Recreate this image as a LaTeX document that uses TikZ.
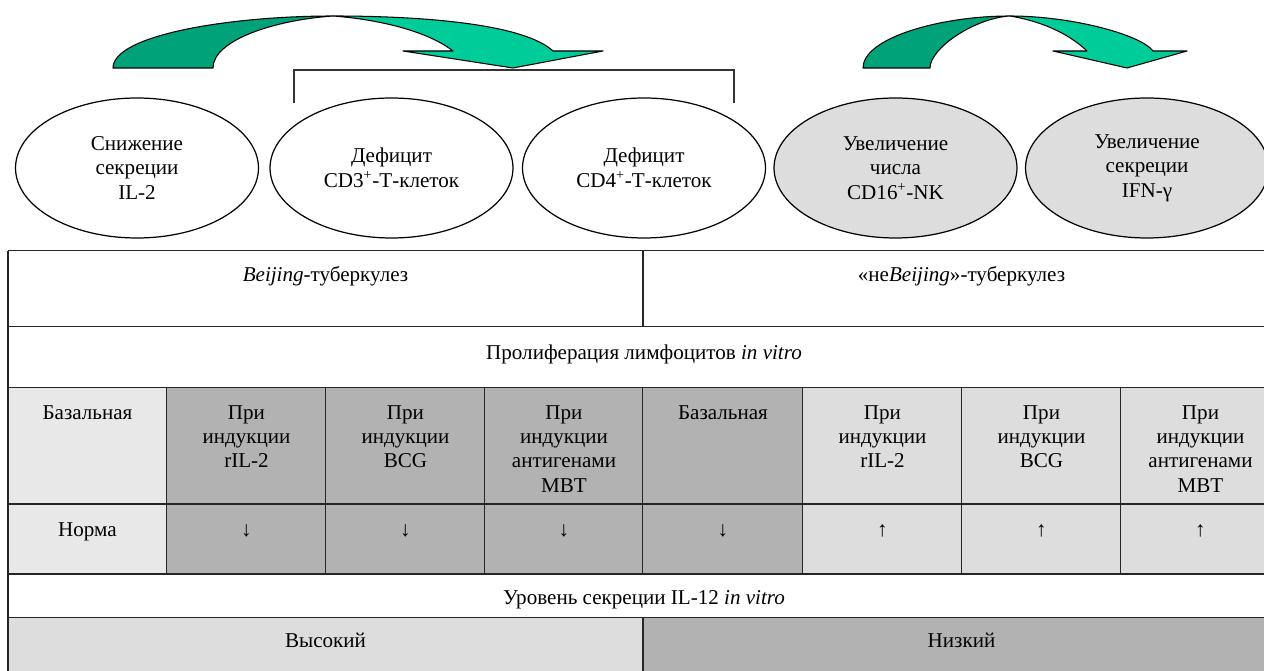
\documentclass[tikz,border=0pt]{standalone}
\usepackage{fontspec}
\setmainfont{Liberation Serif}
\usetikzlibrary{shapes.geometric, positioning, calc}
\definecolor{arrdark}{HTML}{00A27A}
\definecolor{arrlight}{HTML}{00CC99}
\definecolor{ovalgray}{HTML}{DDDDDD}
\definecolor{cellpale}{HTML}{E8E8E8}
\definecolor{celllight}{HTML}{DDDDDD}
\definecolor{celldark}{HTML}{B2B2B2}

\begin{document}
\begin{tikzpicture}[
    x=0.02cm, y=-0.02cm,
    font=\fontsize{12}{13.9}\selectfont,
    oval/.style={draw, ellipse, minimum width=4.86cm, minimum height=2.8cm, inner sep=0pt, align=center, line width=0.7pt},
    ribbon/.style={draw=black, line width=0.6pt, line join=round},
    grid/.style={draw=black!85, line width=0.9pt},
    txt/.style={inner sep=0pt, align=center},
  ]
  \useasboundingbox (0,0) rectangle (1264,671);

  % curved arrows
  \filldraw[ribbon, fill=arrlight] (333,16) .. controls (430,16) and (525,25) .. (553,51)
    -- (603,51) -- (513,68) -- (403,51) -- (453,51)
    .. controls (430,33) and (385,20) .. (333,16) -- cycle;
  \filldraw[ribbon, fill=arrdark] (113,68) .. controls (113,35) and (230,16) .. (333,16)
    .. controls (275,20) and (213,40) .. (213,68) -- cycle;

  \filldraw[ribbon, fill=arrlight] (1010,16) .. controls (1070,16) and (1140,34) .. (1153,51)
    -- (1187,51) -- (1127,68) -- (1053,51) -- (1087,51)
    .. controls (1070,35) and (1045,22) .. (1010,16) -- cycle;
  \filldraw[ribbon, fill=arrdark] (863,68) .. controls (863,38) and (940,16) .. (1010,16)
    .. controls (975,18) and (930,48) .. (930,68) -- cycle;

  % ovals
  \node[oval] (il2) at (137,168) {Снижение\\секреции\\IL-2};
  \node[oval] (cd3) at (391.5,168) {Дефицит\\CD3\textsuperscript{+}-Т-клеток};
  \node[oval] (cd4) at (644,168) {Дефицит\\CD4\textsuperscript{+}-Т-клеток};
  \node[oval, fill=ovalgray] (nk) at (895.5,168) {Увеличение\\числа\\CD16\textsuperscript{+}-NK};
  \node[oval, fill=ovalgray] (ifn) at (1147,168) {Увеличение\\секреции\\IFN-γ};

  % bracket over the T-cell ovals
  \coordinate (brl) at (294,103);
  \coordinate (brr) at (734,103);
  \coordinate (brtop) at (0,70);
  \draw[black!80, line width=0.7pt] (brl) -- (brl |- brtop) -- (brr |- brtop) -- (brr);

  % table fills
  \fill[celllight] (8,617.7) rectangle (643,680);
  \fill[celldark] (643,617.7) rectangle (1280,680);

  \foreach \xl/\xr/\fc/\hd/\vl [count=\i] in {
      8/167/cellpale/{Базальная}/{Норма},
      167/326/celldark/{При\\индукции\\rIL-2}/{↓},
      326/485/celldark/{При\\индукции\\BCG}/{↓},
      485/643/celldark/{При\\индукции\\антигенами\\MBT}/{↓},
      643/803/celldark/{Базальная}/{↓},
      803/962/celllight/{При\\индукции\\rIL-2}/{↑},
      962/1121/celllight/{При\\индукции\\BCG}/{↑},
      1121/1280/celllight/{При\\индукции\\антигенами\\MBT}/{↑}}
  {
    \fill[\fc] (\xl,387.7) rectangle (\xr,574);
    \node[txt, anchor=north] (hd\i) at ({(\xl+\xr)/2},405) {\hd};
    \node[txt, anchor=base] (vl\i) at ({(\xl+\xr)/2},537) {\vl};
    \draw[grid] (\xr,387.7) -- (\xr,574);
  }

  % table lines
  \foreach \yy in {250.7, 326.7, 387.7, 504, 574, 617.7}
    \draw[grid] (8,\yy) -- (1280,\yy);
  \draw[grid] (8,250.7) -- (8,680);
  \draw[grid] (643,250.7) -- (643,326.7);
  \draw[grid] (643,617.7) -- (643,680);

  % row labels
  \node[txt, anchor=base] (bj) at (325.5,282) {\textit{Beijing}-туберкулез};
  \node[txt, anchor=base] (nbj) at (961.5,282) {«не\textit{Beijing}»-туберкулез};
  \node[txt, anchor=base] (prol) at (644,360) {Пролиферация лимфоцитов \textit{in vitro}};
  \node[txt, anchor=base] (lvl) at (644,604) {Уровень секреции IL-12 \textit{in vitro}};
  \node[txt, anchor=base] (hi) at (325.5,647) {Высокий};
  \node[txt, anchor=base] (lo) at (961.5,647) {Низкий};
\end{tikzpicture}
\end{document}
